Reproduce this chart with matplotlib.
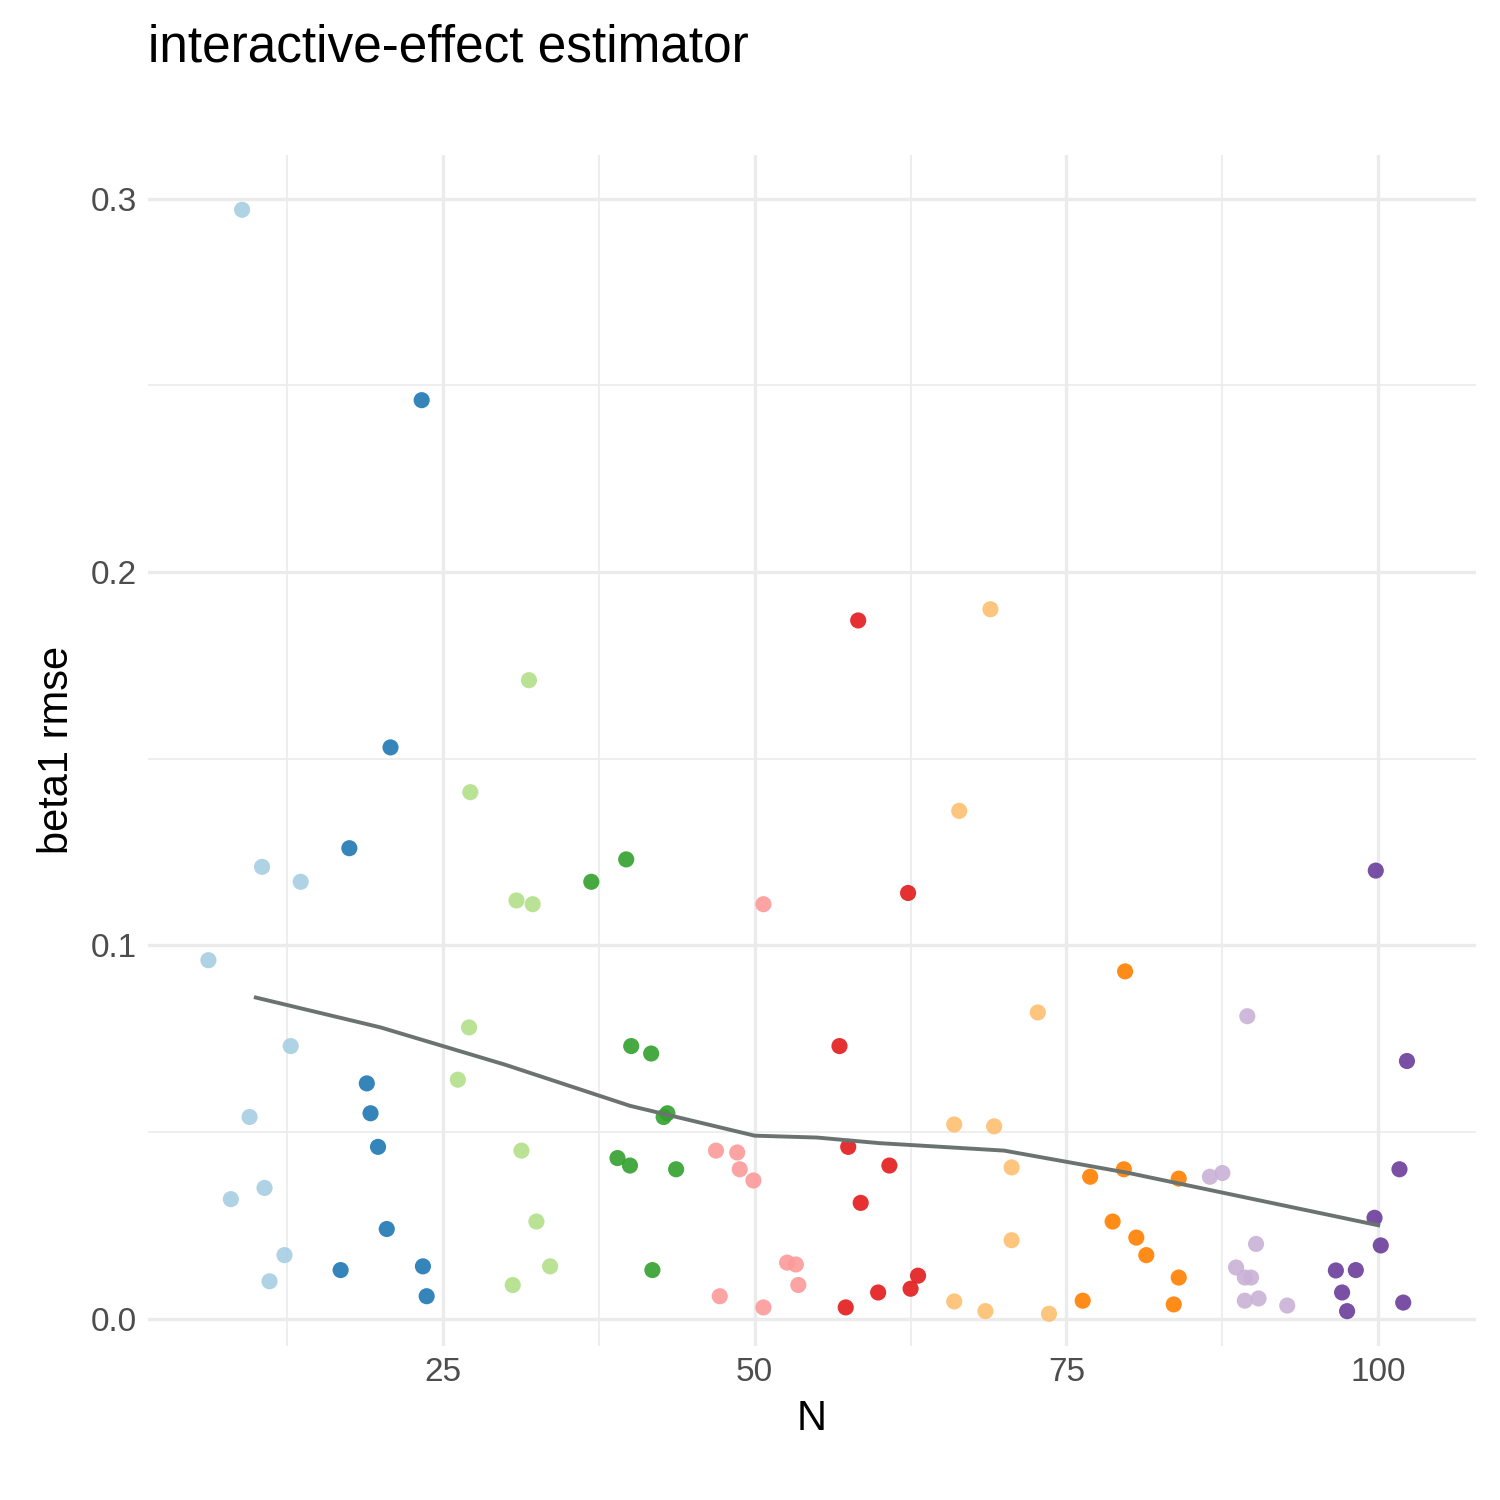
import numpy as np
import matplotlib.pyplot as plt

plt.rcParams['font.family'] = ['Liberation Sans', 'DejaVu Sans']

# colour per N group (Paired palette)
colors = ["#A6CEE3", "#1F78B4", "#B2DF8A", "#33A02C", "#FB9A99",
          "#E31A1C", "#FDBF6F", "#FF7F00", "#CAB2D6", "#6A3D9A"]

n_10 = [8.9, 10.5, 13.6, 6.2, 12.8, 9.5, 8.0, 10.7, 12.3, 11.1]
r_10 = [0.297, 0.121, 0.117, 0.096, 0.073, 0.054, 0.032, 0.035, 0.017, 0.010]
n_20 = [23.3, 20.8, 17.5, 18.9, 19.2, 19.8, 20.5, 16.8, 23.4, 23.7]
r_20 = [0.246, 0.153, 0.126, 0.063, 0.055, 0.046, 0.024, 0.013, 0.014, 0.006]
n_30 = [31.9, 27.2, 30.9, 32.2, 27.1, 26.2, 31.3, 32.5, 33.6, 30.6]
r_30 = [0.171, 0.141, 0.112, 0.111, 0.078, 0.064, 0.045, 0.026, 0.014, 0.009]
n_40 = [39.7, 36.9, 40.1, 41.7, 43.0, 42.7, 39.0, 40.0, 43.7, 41.8]
r_40 = [0.123, 0.117, 0.073, 0.071, 0.055, 0.054, 0.043, 0.041, 0.040, 0.013]
n_50 = [50.7, 46.9, 48.6, 48.8, 49.9, 52.6, 53.3, 53.5, 47.2, 50.7]
r_50 = [0.111, 0.045, 0.0445, 0.040, 0.037, 0.015, 0.0145, 0.009, 0.006, 0.003]
n_60 = [58.3, 62.3, 56.8, 57.5, 60.8, 58.5, 63.1, 62.5, 59.9, 57.3]
r_60 = [0.187, 0.114, 0.073, 0.046, 0.041, 0.031, 0.0115, 0.008, 0.007, 0.003]
n_70 = [68.9, 66.4, 72.7, 66.0, 69.2, 70.6, 70.6, 66.0, 68.5, 73.6]
r_70 = [0.190, 0.136, 0.082, 0.052, 0.0515, 0.0405, 0.021, 0.0046, 0.002, 0.0013]
n_80 = [79.7, 79.6, 76.9, 84.0, 78.7, 80.6, 81.4, 84.0, 76.3, 83.6]
r_80 = [0.093, 0.040, 0.038, 0.0375, 0.026, 0.0217, 0.017, 0.011, 0.0048, 0.0038]
n_90 = [89.5, 87.5, 86.5, 90.2, 88.6, 89.3, 89.8, 90.4, 89.3, 92.7]
r_90 = [0.081, 0.039, 0.038, 0.020, 0.0137, 0.011, 0.011, 0.0054, 0.0048, 0.0035]
n_100 = [99.8, 102.3, 101.7, 99.7, 100.2, 96.6, 98.2, 97.1, 97.5, 102.0]
r_100 = [0.120, 0.069, 0.040, 0.027, 0.0196, 0.0129, 0.013, 0.007, 0.002, 0.0043]

groups = [(n_10, r_10), (n_20, r_20), (n_30, r_30), (n_40, r_40), (n_50, r_50),
          (n_60, r_60), (n_70, r_70), (n_80, r_80), (n_90, r_90), (n_100, r_100)]

# smooth trend line
smooth_n = [10, 20, 30, 40, 50, 55, 60, 70, 80, 90, 100]
smooth_r = [0.086, 0.078, 0.068, 0.057, 0.049, 0.0485, 0.047, 0.045, 0.039, 0.032, 0.025]

fig = plt.figure(figsize=(15, 15), dpi=100)
ax = fig.add_axes([0.0987, 0.103, 0.885, 0.794])

for c, (n, r) in zip(colors, groups):
    ax.scatter(n, r, s=135, color=c, alpha=0.9, edgecolors='none', zorder=3)
ax.plot(smooth_n, smooth_r, color="#6b7370", lw=2.8, zorder=4)

ax.set_xlim(1.36, 107.8)
ax.set_ylim(-0.0072, 0.3118)
ax.set_xticks([25, 50, 75, 100])
ax.set_xticks([12.5, 37.5, 62.5, 87.5], minor=True)
ax.set_yticks([0, 0.1, 0.2, 0.3])
ax.set_yticklabels(["0.0", "0.1", "0.2", "0.3"])
ax.set_yticks([0.05, 0.15, 0.25], minor=True)
ax.grid(which='major', color="#EBEBEB", lw=2.4)
ax.grid(which='minor', color="#EBEBEB", lw=1.2)
ax.set_axisbelow(True)
for s in ax.spines.values():
    s.set_visible(False)
ax.tick_params(which='both', length=0, labelsize=24, labelcolor="#4D4D4D", pad=8)

ax.set_xlabel("N", fontsize=30, labelpad=8)
ax.set_ylabel("beta1 rmse", fontsize=30, labelpad=10)
fig.text(0.099, 0.968, "interactive-effect estimator", fontsize=37, va='center')

fig.savefig("out.png", dpi=100)
